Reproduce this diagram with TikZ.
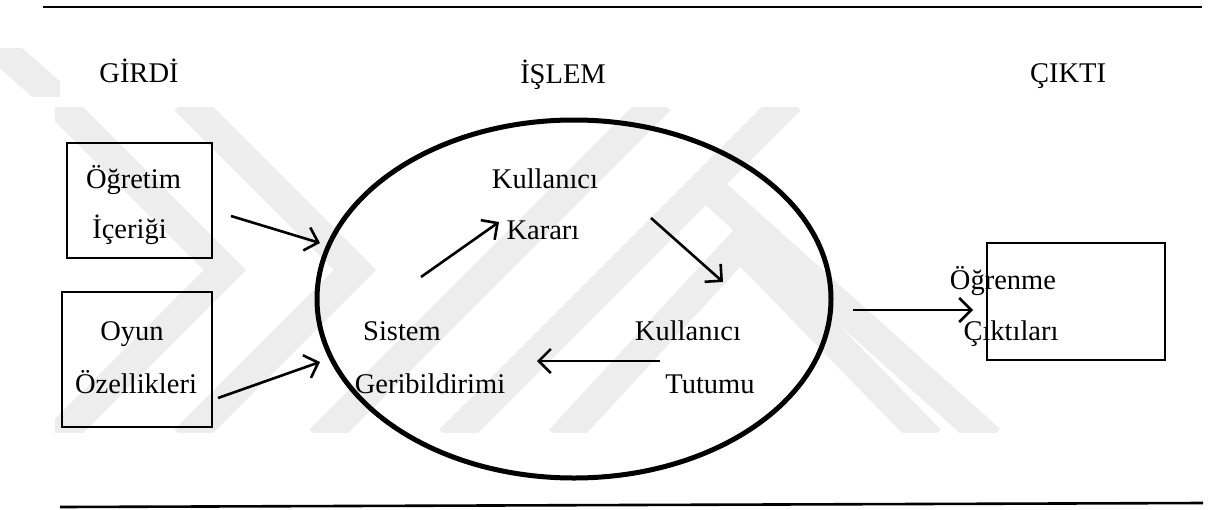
\documentclass[tikz,border=0pt]{standalone}
\usepackage{fontspec}
\setmainfont{Liberation Serif}
\usetikzlibrary{arrows.meta}
\begin{document}
\begin{tikzpicture}[x=1pt,y=-1pt,
  lbl/.style={anchor=base,inner sep=0pt,font=\fontsize{28.5pt}{34pt}\selectfont},
  boxframe/.style={draw,line width=2.6pt},
  flow/.style={line width=2.6pt,-{Straight Barb[length=12pt,width=24pt,line width=2.6pt]}},
  rule/.style={line width=2.6pt},
  mark band/.style={line width=30pt,draw=black!7,line cap=butt,line join=miter}]
\useasboundingbox (0,0) rectangle (1213,509);

% faint background emblem
\begin{scope}
  \clip (55,107) rectangle (1000,432);
  \draw[mark band] (55,100) -- (225,270) -- (55,440);
  \draw[mark band] (185,100) -- (355,270) -- (185,440);
  \draw[mark band] (320,440) -- (660,100);
  \draw[mark band] (450,440) -- (790,100);
  \draw[mark band] (560,440) -- (740,245) -- (930,440);
  \draw[mark band] (700,180) -- (990,440);
\end{scope}
\begin{scope}
  \clip (0,48) rectangle (60,96);
  \draw[mark band] (-10,40) -- (70,110);
\end{scope}

% horizontal rules
\coordinate (t1) at (43,7);
\coordinate (t2) at (1202,7);
\coordinate (b1) at (60,507);
\coordinate (b2) at (1203,503);
\draw[rule] (t1) -- (t2);
\draw[rule] (b1) -- (b2);

% column headings
\node[lbl] (girdi) at (139,82) {GİRDİ};
\node[lbl] (islem) at (563,83) {İŞLEM};
\node[lbl] (cikti) at (1068,82) {ÇIKTI};

% input boxes
\node[boxframe,minimum width=145pt,minimum height=115pt] (box1) at (139.5,200.5) {};
\node[boxframe,minimum width=150pt,minimum height=135pt] (box2) at (137,359.5) {};
\node[lbl] (ogretim) at (133.5,188) {Öğretim};
\node[lbl] (icerigi) at (129.5,238) {İçeriği};
\node[lbl] (oyun) at (132,340) {Oyun};
\node[lbl] (ozellik) at (136,393) {Özellikleri};

% process ellipse
\draw[line width=5pt] (574,299) ellipse [x radius=257, y radius=179];
\node[lbl] (kul1) at (545,188) {Kullanıcı};
\node[lbl] (karar) at (543,239) {Kararı};
\node[lbl] (sistem) at (402,340) {Sistem};
\node[lbl] (geri) at (430,393) {Geribildirimi};
\node[lbl] (kul2) at (688,340) {Kullanıcı};
\node[lbl] (tutum) at (710,393) {Tutumu};

% output box
\node[boxframe,minimum width=178pt,minimum height=117pt] (box3) at (1076,301.5) {};
\node[lbl] (ogrenme) at (1003,289) {Öğrenme};
\node[lbl] (ciktilar) at (1011,340) {Çıktıları};

% arrow end points
\coordinate (a1s) at (231,216);
\coordinate (a1e) at (320,243);
\coordinate (a2s) at (218,398);
\coordinate (a2e) at (320,362);
\coordinate (a3s) at (421,277);
\coordinate (a3e) at (499,222);
\coordinate (a4s) at (651,218);
\coordinate (a4e) at (723,282);
\coordinate (a5s) at (660,361);
\coordinate (a5e) at (537,361);
\coordinate (a6s) at (853,310);
\coordinate (a6e) at (973,310);

\draw[flow] (a1s) -- (a1e);
\draw[flow] (a2s) -- (a2e);
\draw[flow] (a3s) -- (a3e);
\draw[flow] (a4s) -- (a4e);
\draw[flow] (a5s) -- (a5e);
\draw[flow] (a6s) -- (a6e);
\end{tikzpicture}
\end{document}
